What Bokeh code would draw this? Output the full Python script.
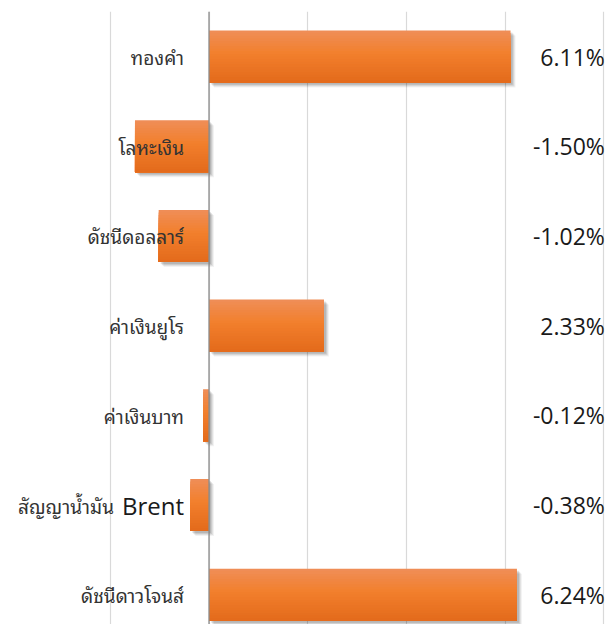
from bokeh.plotting import figure
from bokeh.models import Range1d, Span, ColumnDataSource, FixedTicker
from bokeh.core.properties import value
from bokeh.embed import file_html
from bokeh.resources import INLINE

categories = ["ทองคำ", "โลหะเงิน", "ดัชนีดอลลาร์", "ค่าเงินยูโร", "ค่าเงินบาท",
              "สัญญาน้ำมัน Brent", "ดัชนีดาวโจนส์"]
values = [6.11, -1.50, -1.02, 2.33, -0.12, -0.38, 6.24]
value_labels = ["6.11%", "-1.50%", "-1.02%", "2.33%", "-0.12%", "-0.38%", "6.24%"]
grid_ticks = [-2, 0, 2, 4, 6, 8]

W, H = 608, 624
PXX = 49.35   # px per x unit
PXY = 89.7    # px per category
X0 = 208.5    # px of zero
Y0 = 56       # px of first category centre
TOP = 11
p = figure(width=W, height=H, output_backend="svg", toolbar_location=None,
           x_range=Range1d(-X0 / PXX, (W - X0) / PXX),
           y_range=Range1d((H - Y0) / PXY, -(Y0 - TOP) / PXY),
           min_border_left=0, min_border_right=0, min_border_top=TOP, min_border_bottom=0)
p.outline_line_color = None
p.background_fill_color = "white"
p.border_fill_color = "white"
p.xaxis.visible = False
p.yaxis.visible = False
p.ygrid.grid_line_color = None
p.xgrid.ticker = FixedTicker(ticks=grid_ticks)
p.xgrid.grid_line_color = "#d9d9d9"
p.xgrid.grid_line_width = 1.2

ys = list(range(len(categories)))
bh = 0.58
lefts0 = [min(0, v) for v in values]
rights0 = [max(0, v) for v in values]

# soft drop shadow
for off, a in [(5, 0.05), (4, 0.07), (3, 0.09), (2, 0.1)]:
    p.hbar(y=[y + off / PXY for y in ys], left=[l + off / PXX for l in lefts0],
           right=[r + off / PXX for r in rights0], height=bh,
           fill_color="black", fill_alpha=a, line_color=None)

# vertical gradient fill, drawn as nested strips
stops = [(0.0, (0xEF, 0x8E, 0x58)), (0.45, (0xF2, 0x7F, 0x2C)), (1.0, (0xE3, 0x6A, 0x1B))]
def col(t):
    for (t0, c0), (t1, c1) in zip(stops[:-1], stops[1:]):
        if t <= t1:
            f = (t - t0) / (t1 - t0)
            return "#%02x%02x%02x" % tuple(int(round(a + (b - a) * f)) for a, b in zip(c0, c1))
    return "#%02x%02x%02x" % stops[-1][1]

N = 20
sh = bh / N
for k in range(N):
    t = (k + 0.5) / N
    h = bh - k * sh
    p.hbar(y=[y + bh / 2 - h / 2 for y in ys], left=lefts0, right=rights0,
           height=h, fill_color=col(t), line_color=None)

p.add_layout(Span(location=0, dimension="height", line_color="#8c8c8c", line_width=1.3))

# category labels: Thai part, plus a Latin word (if any) set larger
thai_parts, latin_parts, thai_off = [], [], []
for c in categories:
    head, _, tail = c.rpartition(" ")
    if head and tail.isascii():
        thai_parts.append(head)
        latin_parts.append(tail)
        thai_off.append(-25 - 62 - 8)
    else:
        thai_parts.append(c)
        latin_parts.append("")
        thai_off.append(-25)

src = ColumnDataSource(dict(y=ys, thai=thai_parts, latin=latin_parts, toff=thai_off,
                            lab=value_labels, zero=[0] * len(ys),
                            right=[grid_ticks[-1]] * len(ys)))
p.text(x="zero", y="y", text="thai", source=src, x_offset="toff", text_align="right",
       text_baseline="middle", text_font=value("Noto Sans Thai Looped, Noto Sans"),
       text_font_size="19px", text_color="#333333")
p.text(x="zero", y="y", text="latin", source=src, x_offset=-25, text_align="right",
       text_baseline="middle", text_font=value("Open Sans"),
       text_font_size="24px", text_color="#1a1a1a")
p.text(x="right", y="y", text="lab", source=src, x_offset=1, text_align="right",
       text_baseline="middle", text_font=value("Open Sans"), text_font_size="23px",
       text_color="#1a1a1a")

open("out.html", "w").write(file_html(p, INLINE))
